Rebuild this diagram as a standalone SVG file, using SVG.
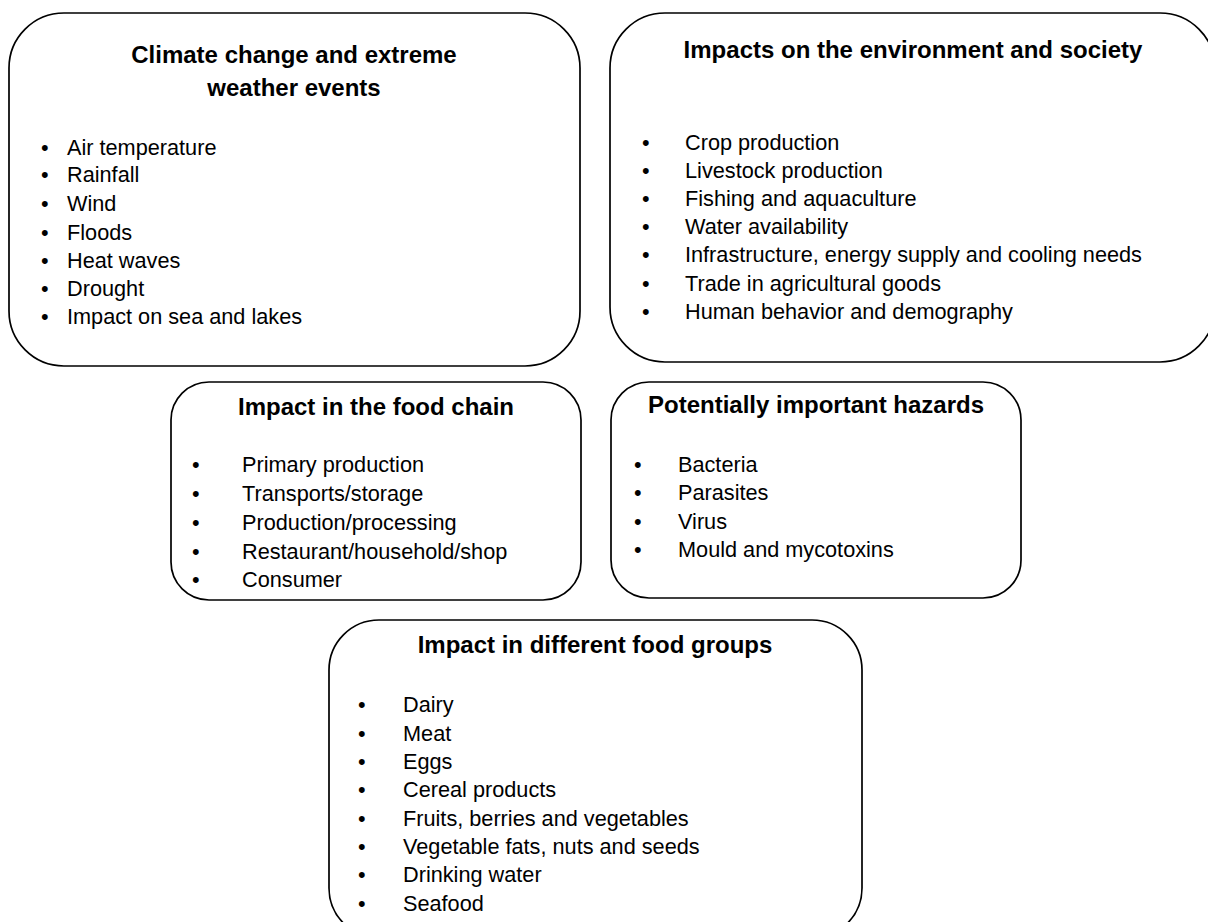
<svg xmlns="http://www.w3.org/2000/svg" width="1208" height="922" viewBox="0 0 1208 922">
  <style>
    .box { fill: #ffffff; stroke: #000000; stroke-width: 1.7; }
    .title { font-family: "Liberation Sans", Arial, sans-serif; font-weight: bold; font-size: 24px; fill: #000000; text-anchor: middle; }
    .item { font-family: "Liberation Sans", Arial, sans-serif; font-size: 21.7px; fill: #000000; }
  </style>
  <rect width="1208" height="922" fill="#ffffff"/>

  <!-- Climate drivers -->
  <g id="climate">
    <rect class="box" x="9" y="13" width="571" height="353" rx="55" ry="55"/>
    <text class="title" x="294" y="63">Climate change and extreme</text>
    <text class="title" x="294" y="96">weather events</text>
    <g class="item">
      <text x="41" y="155">•</text><text x="67" y="155">Air temperature</text>
      <text x="41" y="182">•</text><text x="67" y="182">Rainfall</text>
      <text x="41" y="211">•</text><text x="67" y="211">Wind</text>
      <text x="41" y="240">•</text><text x="67" y="240">Floods</text>
      <text x="41" y="268">•</text><text x="67" y="268">Heat waves</text>
      <text x="41" y="296">•</text><text x="67" y="296">Drought</text>
      <text x="41" y="324">•</text><text x="67" y="324">Impact on sea and lakes</text>
    </g>
  </g>

  <!-- Environment and society -->
  <g id="environment">
    <rect class="box" x="610" y="13" width="605" height="349" rx="55" ry="55"/>
    <text class="title" x="913" y="58">Impacts on the environment and society</text>
    <g class="item">
      <text x="642" y="150">•</text><text x="685" y="150">Crop production</text>
      <text x="642" y="178">•</text><text x="685" y="178">Livestock production</text>
      <text x="642" y="206">•</text><text x="685" y="206">Fishing and aquaculture</text>
      <text x="642" y="234">•</text><text x="685" y="234">Water availability</text>
      <text x="642" y="262">•</text><text x="685" y="262">Infrastructure, energy supply and cooling needs</text>
      <text x="642" y="291">•</text><text x="685" y="291">Trade in agricultural goods</text>
      <text x="642" y="319">•</text><text x="685" y="319">Human behavior and demography</text>
    </g>
  </g>

  <!-- Food chain -->
  <g id="food-chain">
    <rect class="box" x="171" y="382" width="410" height="218" rx="38" ry="38"/>
    <text class="title" x="376" y="415">Impact in the food chain</text>
    <g class="item">
      <text x="192" y="472">•</text><text x="242" y="472">Primary production</text>
      <text x="192" y="501">•</text><text x="242" y="501">Transports/storage</text>
      <text x="192" y="530">•</text><text x="242" y="530">Production/processing</text>
      <text x="192" y="559">•</text><text x="242" y="559">Restaurant/household/shop</text>
      <text x="192" y="587">•</text><text x="242" y="587">Consumer</text>
    </g>
  </g>

  <!-- Hazards -->
  <g id="hazards">
    <rect class="box" x="611" y="382" width="410" height="216" rx="38" ry="38"/>
    <text class="title" x="816" y="413">Potentially important hazards</text>
    <g class="item">
      <text x="634" y="472">•</text><text x="678" y="472">Bacteria</text>
      <text x="634" y="500">•</text><text x="678" y="500">Parasites</text>
      <text x="634" y="529">•</text><text x="678" y="529">Virus</text>
      <text x="634" y="557">•</text><text x="678" y="557">Mould and mycotoxins</text>
    </g>
  </g>

  <!-- Food groups -->
  <g id="food-groups">
    <rect class="box" x="329" y="620" width="533" height="318" rx="50" ry="50"/>
    <text class="title" x="595" y="653">Impact in different food groups</text>
    <g class="item">
      <text x="358" y="712">•</text><text x="403" y="712">Dairy</text>
      <text x="358" y="741">•</text><text x="403" y="741">Meat</text>
      <text x="358" y="769">•</text><text x="403" y="769">Eggs</text>
      <text x="358" y="797">•</text><text x="403" y="797">Cereal products</text>
      <text x="358" y="826">•</text><text x="403" y="826">Fruits, berries and vegetables</text>
      <text x="358" y="854">•</text><text x="403" y="854">Vegetable fats, nuts and seeds</text>
      <text x="358" y="882">•</text><text x="403" y="882">Drinking water</text>
      <text x="358" y="911">•</text><text x="403" y="911">Seafood</text>
    </g>
  </g>

  <!-- No connectors are drawn between the panels -->
  <g id="connectors"/>
</svg>
